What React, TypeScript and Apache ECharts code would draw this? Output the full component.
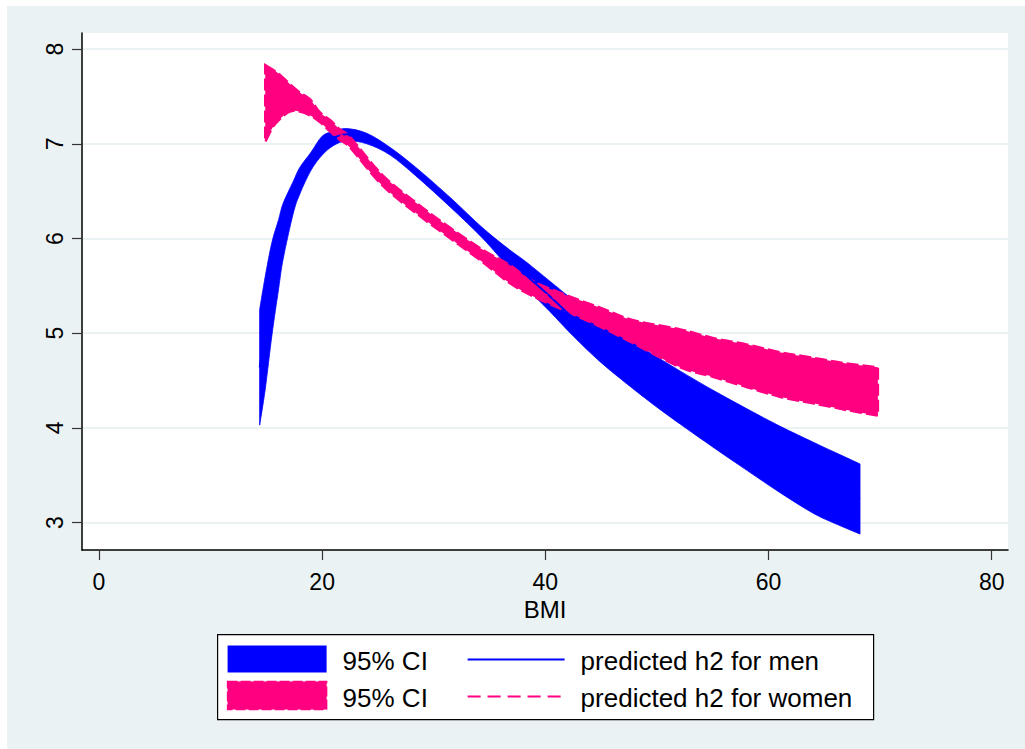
import React, { useEffect, useRef } from "react";
import * as echarts from "echarts";

// ---- data ----
const BMI_MEN = [14.4, 14.9, 15.5, 16.1, 16.5, 17.4, 18.0, 19.0, 20.0, 21.0, 22.2, 24.0, 26.1, 28.5, 31.5, 34.4, 36.8, 38.2, 40.4, 42.5, 44.9, 47.8, 50.0, 52.1, 55.0, 58.1, 61.0, 64.0, 66.0, 68.2];
const MEN_LO = [4.03, 4.41, 4.98, 5.47, 5.78, 6.26, 6.47, 6.72, 6.88, 6.98, 7.03, 7.0, 6.88, 6.65, 6.33, 6.0, 5.68, 5.49, 5.23, 4.97, 4.7, 4.42, 4.22, 4.04, 3.8, 3.55, 3.32, 3.1, 2.99, 2.88];
const MEN_HI = [5.25, 5.6, 5.96, 6.2, 6.37, 6.6, 6.75, 6.91, 7.08, 7.13, 7.16, 7.11, 6.96, 6.74, 6.43, 6.11, 5.88, 5.76, 5.55, 5.35, 5.14, 4.91, 4.75, 4.6, 4.4, 4.2, 4.02, 3.85, 3.74, 3.62];
const MEN_FIT = [4.64, 5.0, 5.47, 5.83, 6.07, 6.43, 6.61, 6.82, 6.98, 7.06, 7.1, 7.06, 6.92, 6.7, 6.38, 6.06, 5.78, 5.62, 5.39, 5.16, 4.92, 4.66, 4.48, 4.32, 4.1, 3.87, 3.67, 3.47, 3.37, 3.25];

const BMI_WOMEN = [14.9, 15.6, 16.2, 17.1, 18.0, 18.9, 19.8, 20.7, 21.6, 22.5, 25.4, 28.5, 31.5, 34.4, 36.8, 38.9, 41.9, 44.9, 47.8, 52.1, 55.0, 58.1, 61.0, 64.0, 67.0, 69.8];
const WOMEN_LO = [7.02, 7.18, 7.26, 7.34, 7.34, 7.3, 7.23, 7.13, 7.04, 6.96, 6.56, 6.26, 6.0, 5.75, 5.53, 5.39, 5.23, 5.07, 4.9, 4.64, 4.54, 4.43, 4.33, 4.26, 4.19, 4.13];
const WOMEN_HI = [7.83, 7.78, 7.73, 7.63, 7.54, 7.47, 7.33, 7.25, 7.15, 7.07, 6.67, 6.37, 6.11, 5.88, 5.72, 5.55, 5.4, 5.27, 5.14, 5.04, 4.95, 4.88, 4.8, 4.74, 4.68, 4.64];
const WOMEN_FIT = [7.42, 7.48, 7.5, 7.48, 7.44, 7.38, 7.28, 7.19, 7.1, 7.02, 6.62, 6.32, 6.06, 5.82, 5.63, 5.47, 5.32, 5.17, 5.02, 4.84, 4.75, 4.66, 4.57, 4.5, 4.44, 4.39];

const X_TICKS = [0, 20, 40, 60, 80];
const Y_TICKS = [3, 4, 5, 6, 7, 8];
const X_NAME = "BMI";
const LEGEND_CI = "95% CI";
const LEGEND_MEN = "predicted h2 for men";
const LEGEND_WOMEN = "predicted h2 for women";

const BLUE = "#0000FF";
const PINK = "#FF0080";
const PANEL = "#EAF2F3";
const FONT = "Arial, 'Liberation Sans', Helvetica, sans-serif";

// Catmull-Rom spline through pixel points, as SVG cubic segments
function splineSegments(pts: number[][]): string {
  let d = "";
  const n = pts.length;
  for (let i = 0; i < n - 1; i++) {
    const p0 = pts[Math.max(i - 1, 0)];
    const p1 = pts[i];
    const p2 = pts[i + 1];
    const p3 = pts[Math.min(i + 2, n - 1)];
    const c1x = p1[0] + (p2[0] - p0[0]) / 6;
    const c1y = p1[1] + (p2[1] - p0[1]) / 6;
    const c2x = p2[0] - (p3[0] - p1[0]) / 6;
    const c2y = p2[1] - (p3[1] - p1[1]) / 6;
    d += ` C ${c1x} ${c1y} ${c2x} ${c2y} ${p2[0]} ${p2[1]}`;
  }
  return d;
}

function bandSeries(name: string, xs: number[], lo: number[], hi: number[], color: string, dashed: boolean) {
  const data = xs.map((x, i) => [x, lo[i], hi[i]]);
  return {
    type: "custom",
    name,
    data,
    encode: { x: 0, y: [1, 2] },
    silent: true,
    renderItem: (params: any, api: any) => {
      if (params.dataIndex !== 0) return null;
      const up = xs.map((x, i) => api.coord([x, hi[i]]));
      const dn = xs.map((x, i) => api.coord([x, lo[i]])).reverse();
      const d =
        `M ${up[0][0]} ${up[0][1]}` +
        splineSegments(up) +
        ` L ${dn[0][0]} ${dn[0][1]}` +
        splineSegments(dn) +
        " Z";
      return {
        type: "path",
        shape: { pathData: d },
        style: dashed
          ? { fill: color, stroke: color, lineWidth: 2.5, lineDash: [12, 4] }
          : { fill: color, stroke: color, lineWidth: 0.8 },
      };
    },
  };
}

export default function App() {
  const ref = useRef<HTMLDivElement>(null);
  useEffect(() => {
    if (!ref.current) return;
    const chart = echarts.init(ref.current, undefined, { renderer: "svg" });
    const legendLeft = 217;
    const legendTop = 634;
    chart.setOption({
      animation: false,
      backgroundColor: PANEL,
      textStyle: { fontFamily: FONT },
      grid: {
        left: 82,
        top: 33,
        width: 926,
        height: 517,
        show: true,
        backgroundColor: "#FFFFFF",
        borderWidth: 0,
      },
      xAxis: {
        type: "value",
        min: -1.52,
        max: 81.46,
        name: X_NAME,
        nameLocation: "middle",
        nameGap: 40,
        nameTextStyle: { fontSize: 24, color: "#000", fontFamily: FONT },
        axisLine: { show: true, onZero: false, lineStyle: { color: "#000", width: 1.5 } },
        axisTick: { show: true, customValues: X_TICKS, length: 10, lineStyle: { color: "#333", width: 1.2 } },
        axisLabel: { customValues: X_TICKS, fontSize: 23, color: "#000", margin: 20, fontFamily: FONT },
        splitLine: { show: false },
      },
      yAxis: {
        type: "value",
        min: 2.712,
        max: 8.169,
        axisLine: { show: true, onZero: false, lineStyle: { color: "#000", width: 1.5 } },
        axisTick: { show: true, customValues: Y_TICKS, length: 10, lineStyle: { color: "#333", width: 1.2 } },
        axisLabel: { customValues: Y_TICKS, fontSize: 23, color: "#000", margin: 16, rotate: 90, fontFamily: FONT },
        splitLine: { show: true, lineStyle: { color: PANEL, width: 2 } },
      },
      series: [
        bandSeries("CI men", BMI_MEN, MEN_LO, MEN_HI, BLUE, false),
        {
          type: "line",
          name: LEGEND_MEN,
          data: BMI_MEN.map((x, i) => [x, MEN_FIT[i]]),
          showSymbol: false,
          smooth: true,
          lineStyle: { color: BLUE, width: 2 },
          silent: true,
        },
        bandSeries("CI women", BMI_WOMEN, WOMEN_LO, WOMEN_HI, PINK, true),
        {
          type: "line",
          name: LEGEND_WOMEN,
          data: BMI_WOMEN.map((x, i) => [x, WOMEN_FIT[i]]),
          showSymbol: false,
          smooth: true,
          lineStyle: { color: PINK, width: 2, type: [12, 6] },
          silent: true,
        },
      ],
      graphic: [
        { type: "rect", left: 0, top: 0, shape: { width: 1025, height: 6 }, style: { fill: "#fff" }, silent: true },
        { type: "rect", left: 0, top: 0, shape: { width: 7, height: 749 }, style: { fill: "#fff" }, silent: true },
        {
          type: "group",
          left: legendLeft,
          top: legendTop,
          children: [
            { type: "rect", shape: { x: 0, y: 0, width: 656, height: 85 }, style: { fill: "#fff", stroke: "#000", lineWidth: 1.2 } },
            { type: "rect", shape: { x: 10, y: 11, width: 99, height: 27 }, style: { fill: BLUE } },
            { type: "rect", shape: { x: 10, y: 47, width: 99, height: 28 }, style: { fill: PINK, stroke: PINK, lineWidth: 1.5, lineDash: [10, 3] } },
            { type: "text", x: 125, y: 26, style: { text: LEGEND_CI, fill: "#000", font: `26px ${FONT}`, verticalAlign: "middle" } },
            { type: "text", x: 125, y: 63, style: { text: LEGEND_CI, fill: "#000", font: `26px ${FONT}`, verticalAlign: "middle" } },
            { type: "line", shape: { x1: 250, y1: 25, x2: 347, y2: 25 }, style: { stroke: BLUE, lineWidth: 2 } },
            { type: "line", shape: { x1: 250, y1: 62, x2: 347, y2: 62 }, style: { stroke: PINK, lineWidth: 2, lineDash: [13, 7] } },
            { type: "text", x: 363, y: 26, style: { text: LEGEND_MEN, fill: "#000", font: `26px ${FONT}`, verticalAlign: "middle" } },
            { type: "text", x: 363, y: 63, style: { text: LEGEND_WOMEN, fill: "#000", font: `26px ${FONT}`, verticalAlign: "middle" } },
          ],
        },
      ],
    });
    return () => chart.dispose();
  }, []);
  return (
    <div
      ref={ref}
      style={{ position: "fixed", left: 0, top: 0, width: 1025, height: 749 }}
    />
  );
}
